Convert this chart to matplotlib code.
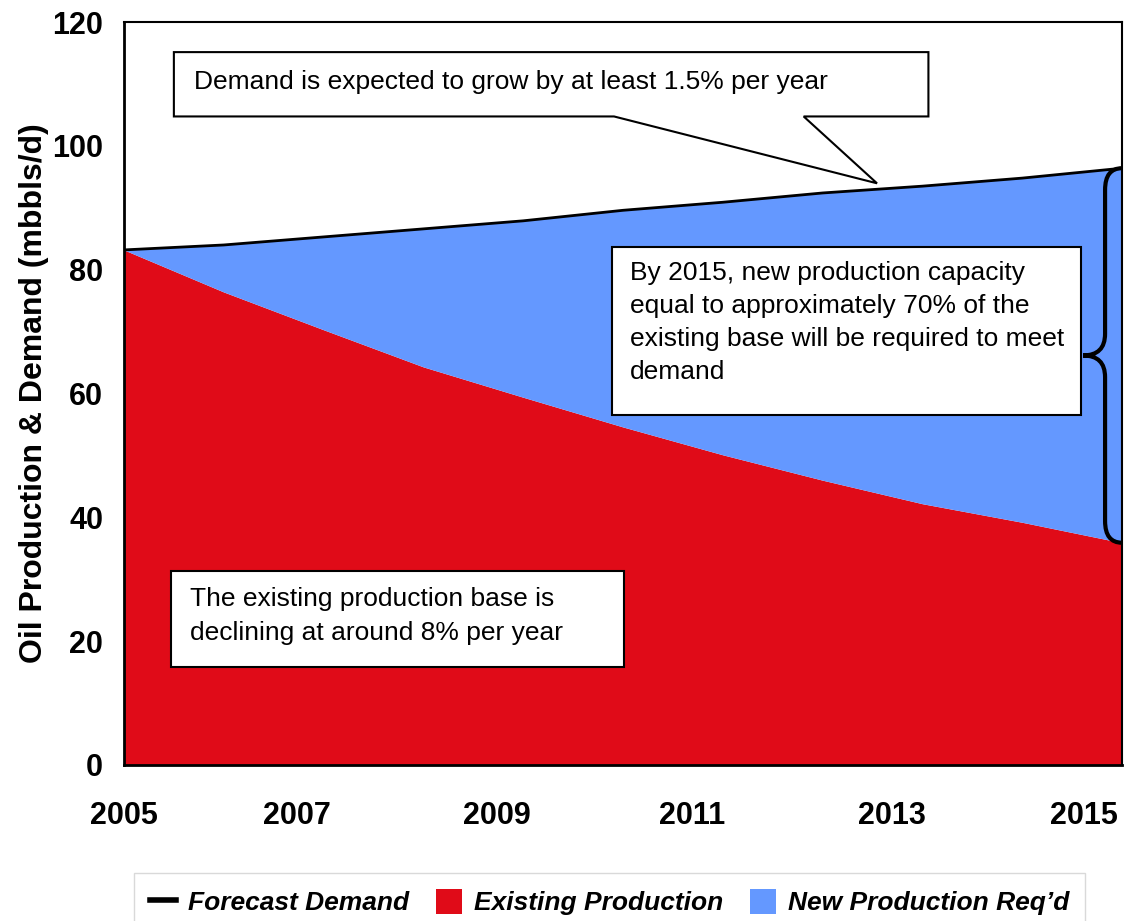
import numpy as np
import matplotlib
matplotlib.use('Agg')
import matplotlib.pyplot as plt
from matplotlib.path import Path
from matplotlib.patches import PathPatch, Polygon, Rectangle
from matplotlib.lines import Line2D
from matplotlib.transforms import blended_transform_factory

plt.rcParams['font.family'] = ['Liberation Sans', 'DejaVu Sans']

# data
years = [2005, 2006, 2007, 2008, 2009, 2010, 2011, 2012, 2013, 2014, 2015]
demand = [83.2, 84.0, 85.3, 86.6, 87.9, 89.6, 90.9, 92.4, 93.5, 94.8, 96.4]
existing = [83.2, 76.4, 70.3, 64.3, 59.4, 54.6, 50.1, 46.0, 42.2, 39.2, 35.9]
tick_labels = ['2005', '2007', '2009', '2011', '2013', '2015']
tick_pos = [2005.0, 2006.73, 2008.74, 2010.69, 2012.69, 2014.62]  # label placement as in the original

red = '#E00B18'
blue = '#6498FF'

fig = plt.figure(figsize=(11.27, 9.21), dpi=100)
ax = fig.add_axes([0.110, 0.1694, 0.8856, 0.8066])

ax.fill_between(years, 0, existing, color=red, lw=0)
ax.fill_between(years, existing, demand, color=blue, lw=0)
ax.plot(years, demand, color='black', lw=2)

ax.set_xlim(2005, 2015)
ax.set_ylim(0, 120)
ax.set_yticks(range(0, 121, 20))
ax.set_xticks(tick_pos)
ax.set_xticklabels(tick_labels)
ax.tick_params(axis='both', length=0)
ax.tick_params(axis='y', pad=15, labelsize=22)
ax.tick_params(axis='x', pad=26, labelsize=22)
for lab in ax.get_xticklabels() + ax.get_yticklabels():
    lab.set_fontweight('bold')
ax.set_ylabel('Oil Production & Demand (mbbls/d)', fontsize=23, fontweight='bold', labelpad=2)
for s in ax.spines.values():
    s.set_linewidth(1.5)
ax.spines['left'].set_linewidth(2)
ax.spines['bottom'].set_linewidth(2)

# callout: demand growth
tip_x, tip_y = 0.7545, 0.783
callout = Polygon([(0.05, 0.873), (0.05, 0.9596), (0.806, 0.9596), (0.806, 0.873),
                   (0.681, 0.873), (tip_x, tip_y), (0.491, 0.873)],
                  closed=True, transform=ax.transAxes, facecolor='white',
                  edgecolor='black', lw=1.5, zorder=5)
ax.add_patch(callout)
ax.text(0.0701, 0.919, 'Demand is expected to grow by at least 1.5% per year',
        transform=ax.transAxes, fontsize=19, va='center', ha='left', zorder=6)

# box: new capacity
ax.add_patch(Rectangle((0.489, 0.471), 0.470, 0.226, transform=ax.transAxes,
                       facecolor='white', edgecolor='black', lw=1.5, zorder=5))
ax.text(0.507, 0.678, 'By 2015, new production capacity\nequal to approximately 70% of the\n'
        'existing base will be required to meet\ndemand',
        transform=ax.transAxes, fontsize=19, va='top', ha='left', linespacing=1.47, zorder=6)

# box: existing base
ax.add_patch(Rectangle((0.047, 0.132), 0.454, 0.129, transform=ax.transAxes,
                       facecolor='white', edgecolor='black', lw=1.5, zorder=5))
ax.text(0.066, 0.240, 'The existing production base is\ndeclining at around 8% per year',
        transform=ax.transAxes, fontsize=19, va='top', ha='left', linespacing=1.55, zorder=6)

# curly brace between existing production and demand in 2015
trans = blended_transform_factory(ax.transAxes, ax.transData)
ytop, ybot = demand[-1], existing[-1]
ymid = (ytop + ybot) / 2
xe, xs, xt, r = 1.0, 0.983, 0.961, 3.5
verts = [(xe, ytop), (xs, ytop), (xs, ytop - r),
         (xs, ymid + r),
         (xs, ymid), (xt, ymid),
         (xs, ymid), (xs, ymid - r),
         (xs, ybot + r),
         (xs, ybot), (xe, ybot)]
codes = [Path.MOVETO, Path.CURVE3, Path.CURVE3,
         Path.LINETO,
         Path.CURVE3, Path.CURVE3,
         Path.CURVE3, Path.CURVE3,
         Path.LINETO,
         Path.CURVE3, Path.CURVE3]
ax.add_patch(PathPatch(Path(verts, codes), transform=trans, facecolor='none',
                       edgecolor='black', lw=3, clip_on=False, zorder=7))

# legend (bottom edge runs off the figure, as in the original)
handles = [Line2D([0], [0], color='black', lw=4),
           Rectangle((0, 0), 1, 1, facecolor=red),
           Rectangle((0, 0), 1, 1, facecolor=blue)]
leg = fig.legend(handles, ['Forecast Demand', 'Existing Production', 'New Production Req\u2019d'],
                 loc='upper left', bbox_to_anchor=(134 / 1127, 1 - 873 / 921), ncol=3,
                 frameon=True, fancybox=False, edgecolor='#D0D0D0', borderaxespad=0,
                 prop={'size': 19, 'weight': 'bold', 'style': 'italic'},
                 handlelength=1.0, handleheight=1.1, columnspacing=1.0, handletextpad=0.45,
                 borderpad=0.6)
leg.get_frame().set_linewidth(1)

fig.savefig('out.png', dpi=100)
